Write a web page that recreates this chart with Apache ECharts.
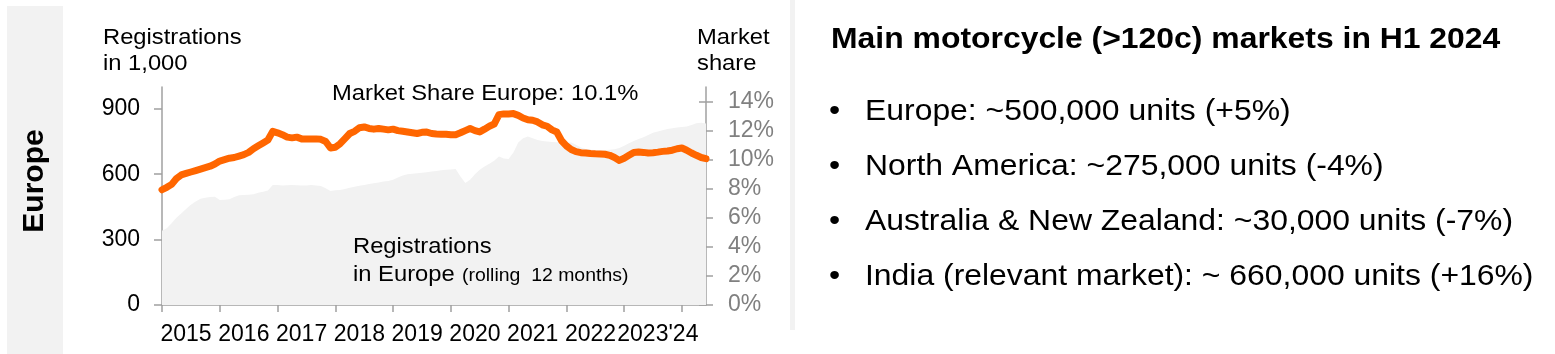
<!DOCTYPE html>
<html lang="en">
<head>
    <meta charset="UTF-8">
    <title>Europe motorcycle registrations</title>
    <script src="https://cdn.jsdelivr.net/npm/echarts@6/dist/echarts.min.js"></script>
    <style>
        html, body { margin: 0; padding: 0; background: #fff; }
        #main { width: 1555px; height: 354px; }
    </style>
</head>
<body>
<div id="main"></div>
<script type="text/javascript">
    // monthly points Jan 2015 .. Jun 2024
    var months = [];
    for (var y = 2015; y <= 2024; y++) {
        for (var m = 1; m <= 12; m++) {
            if (y === 2024 && m > 6) break;
            months.push(y + '-' + (m < 10 ? '0' + m : m));
        }
    }

    // registrations, rolling 12 months, in 1,000
    var registrations = [
        341, 352, 375, 400, 420, 440, 460, 475, 487, 492, 495, 497,
        482, 483, 485, 495, 503, 505, 506, 508, 515, 520, 525, 551,
        550, 548, 549, 551, 549, 548, 548, 550, 548, 546, 535, 523,
        526, 528, 532, 538, 543, 547, 551, 555, 559, 562, 566, 569,
        575, 585, 594, 600, 602, 604, 607, 609, 612, 615, 618, 620,
        622, 624, 590, 560, 575, 600, 620, 635, 648, 662, 681, 672,
        670, 700, 745, 765, 773, 765, 757, 752, 750, 748, 746, 745,
        744, 745, 735, 722, 716, 712, 711, 710, 711, 712, 714, 720,
        730, 742, 752, 762, 770, 780, 790, 796, 802, 807, 811, 814,
        817, 819, 826, 834, 836, 832
    ];

    // market share Europe, %
    var marketShare = [
        7.93, 8.1, 8.3, 8.7, 8.95, 9.05, 9.15, 9.25, 9.35, 9.45, 9.55, 9.7,
        9.9, 10.0, 10.1, 10.15, 10.25, 10.35, 10.5, 10.75, 10.95, 11.15, 11.35, 11.95,
        11.85, 11.72, 11.55, 11.5, 11.55, 11.43, 11.43, 11.43, 11.43, 11.4, 11.25, 10.8,
        10.85, 11.1, 11.45, 11.8, 11.95, 12.2, 12.25, 12.15, 12.1, 12.15, 12.1, 12.05,
        12.1, 12.0, 11.95, 11.9, 11.85, 11.8, 11.88, 11.9, 11.8, 11.77, 11.75, 11.75,
        11.72, 11.72, 11.85, 12.0, 12.14, 12.0, 11.91, 12.1, 12.3, 12.45, 13.1, 13.15,
        13.15, 13.17, 13.05, 12.87, 12.75, 12.71, 12.6, 12.4, 12.3, 12.05, 11.9, 11.3,
        10.95, 10.7, 10.55, 10.48, 10.46, 10.42, 10.4, 10.39, 10.37, 10.3, 10.15, 9.95,
        10.1, 10.3, 10.5, 10.53, 10.5, 10.46, 10.48, 10.52, 10.57, 10.6, 10.65, 10.75,
        10.8, 10.65, 10.46, 10.3, 10.15, 10.07
    ];

    var leftTicks = [0, 300, 600, 900];
    var rightTicks = [0, 2, 4, 6, 8, 10, 12, 14];
    // x labels sit mid-year; the last one covers 2023 and the half year 2024
    var yearLabels = {
        '2015-06': '2015', '2016-06': '2016', '2017-06': '2017', '2018-06': '2018', '2019-06': '2019',
        '2020-06': '2020', '2021-06': '2021', '2022-06': '2022', '2023-08': "2023'24"
    };

    var bullets = [
        'Europe: ~500,000 units (+5%)',
        'North America: ~275,000 units (-4%)',
        'Australia & New Zealand: ~30,000 units (-7%)',
        'India (relevant market): ~ 660,000 units (+16%)'
    ];

    var FONT = '"Liberation Sans", Arial, sans-serif';
    var AXIS = '#a0a0a0';

    function txt(x, y, text, size, opts) {
        opts = opts || {};
        return {
            type: 'text', x: x, y: y,
            scaleX: opts.scaleX || 1.08,
            rotation: opts.rotation || 0,
            z: 100,
            style: {
                text: text,
                fill: opts.color || '#000',
                fontSize: size,
                fontFamily: FONT,
                fontWeight: opts.bold ? 'bold' : 'normal',
                align: opts.align || 'left',
                verticalAlign: 'middle'
            }
        };
    }

    var graphics = [
        {type: 'rect', shape: {x: 7, y: 6, width: 56, height: 348}, style: {fill: '#f2f2f2'}, z: 0},
        {type: 'rect', shape: {x: 790, y: 0, width: 5, height: 330}, style: {fill: '#f2f2f2'}, z: 0},
        txt(35, 181, 'Europe', 30, {bold: true, align: 'center', rotation: Math.PI / 2, scaleX: 1}),
        txt(103, 38, 'Registrations', 22),
        txt(103, 64, 'in 1,000', 22),
        txt(697, 38, 'Market', 22),
        txt(697, 64, 'share', 22),
        txt(332, 94, 'Market Share Europe: 10.1%', 22),
        txt(353, 247, 'Registrations', 22),
        txt(353, 275, 'in Europe', 22),
        txt(462, 276, '(rolling  12 months)', 18),
        txt(831, 40, 'Main motorcycle (>120c) markets in H1 2024', 29, {bold: true, scaleX: 1.1})
    ];
    for (var i = 0; i < bullets.length; i++) {
        graphics.push(txt(829, 112 + i * 55, '\u2022', 29, {scaleX: 1.1}));
        graphics.push(txt(865, 112 + i * 55, bullets[i], 29, {scaleX: 1.1}));
    }

    var myChart = echarts.init(document.getElementById('main'));

    var option = {
        backgroundColor: '#fff',
        animation: false,
        grid: {left: 162, right: 849, top: 87, bottom: 49, containLabel: false, outerBoundsMode: 'none'},
        xAxis: {
            type: 'category',
            data: months,
            boundaryGap: false,
            axisLine: {lineStyle: {color: AXIS, width: 1.5}},
            axisTick: {
                length: 7,
                lineStyle: {color: AXIS, width: 1.5},
                interval: function (idx, val) { return val.slice(5) === '01'; }
            },
            axisLabel: {
                color: '#000',
                fontSize: 23,
                fontFamily: FONT,
                margin: 18,
                hideOverlap: false,
                interval: function (idx, val) { return yearLabels.hasOwnProperty(val); },
                formatter: function (val) { return yearLabels[val] || ''; }
            },
            splitLine: {show: false}
        },
        yAxis: [
            {
                type: 'value', min: 0, max: 1000, position: 'left',
                axisLine: {show: true, lineStyle: {color: AXIS, width: 1.5}},
                axisTick: {show: true, length: 8, customValues: leftTicks, lineStyle: {color: AXIS, width: 1.5}},
                axisLabel: {customValues: leftTicks, color: '#000', fontSize: 23, fontFamily: FONT, margin: 22},
                splitLine: {show: false}
            },
            {
                type: 'value', min: 0, max: 15, position: 'right',
                axisLine: {show: true, lineStyle: {color: AXIS, width: 1.5}},
                axisTick: {show: true, length: 7, customValues: rightTicks, lineStyle: {color: AXIS, width: 1.5}},
                axisLabel: {
                    customValues: rightTicks, color: '#808080', fontSize: 23, fontFamily: FONT, margin: 22,
                    formatter: '{value}%'
                },
                splitLine: {show: false}
            },
            {
                // inner half of the crossing ticks on the right axis
                type: 'value', min: 0, max: 15, position: 'right',
                axisLine: {show: false},
                axisTick: {show: true, inside: true, length: 7, customValues: rightTicks, lineStyle: {color: AXIS, width: 1.5}},
                axisLabel: {show: false},
                splitLine: {show: false}
            }
        ],
        series: [
            {
                name: 'Registrations in Europe',
                type: 'line',
                yAxisIndex: 0,
                data: registrations,
                showSymbol: false,
                lineStyle: {width: 0},
                areaStyle: {color: '#f2f2f2', opacity: 1},
                z: 1
            },
            {
                name: 'Market Share Europe',
                type: 'line',
                yAxisIndex: 1,
                data: marketShare,
                showSymbol: false,
                lineStyle: {color: '#ff6600', width: 7, join: 'round', cap: 'round'},
                itemStyle: {color: '#ff6600'},
                z: 3
            }
        ],
        graphic: graphics
    };

    myChart.setOption(option);
</script>
</body>
</html>
